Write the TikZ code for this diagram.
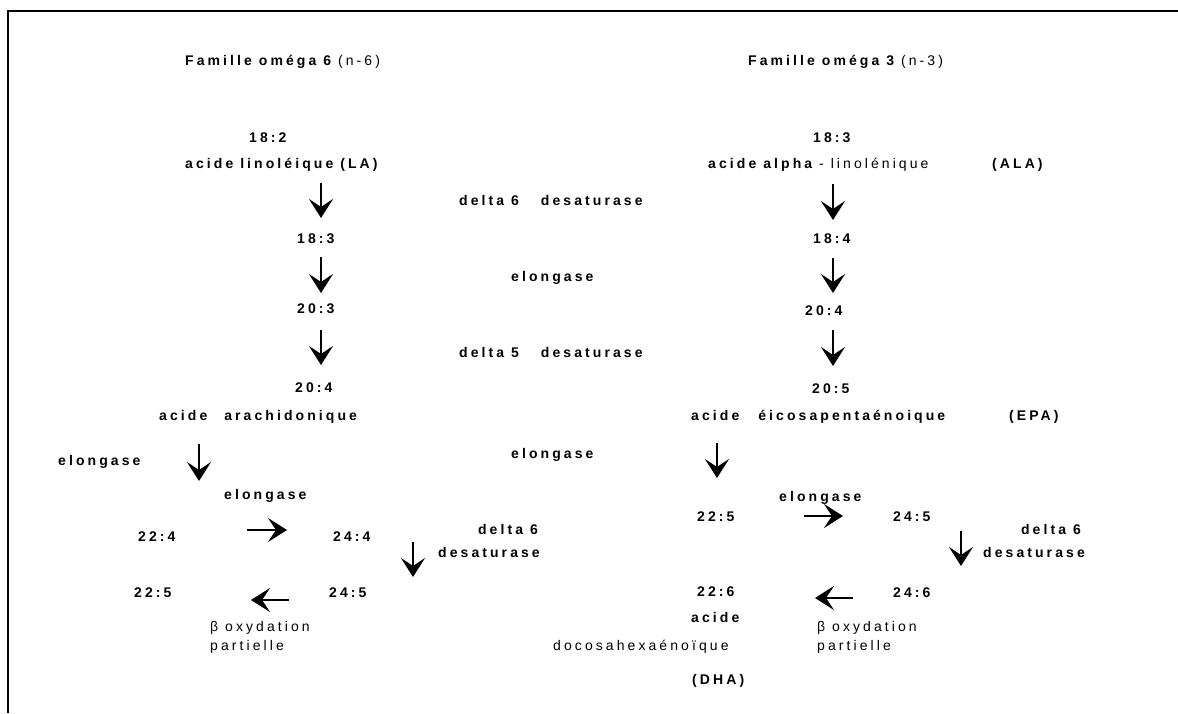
\documentclass[tikz,border=0pt]{standalone}
\usepackage{fontspec}
\setmainfont{Liberation Sans}[LetterSpace=22]
\usetikzlibrary{arrows.meta}
\tikzset{
  lbl/.style={anchor=west, inner sep=0pt, text height=10pt, text depth=0pt,
    font=\fontsize{14pt}{16pt}\selectfont\bfseries},
  lblr/.style={lbl, anchor=east},
  plain/.style={lbl, font=\fontsize{14pt}{16pt}\selectfont},
  flow/.style={line width=2.6pt, -{Stealth[length=19pt,width=24pt,inset=8pt]}},
}
\newcommand{\lite}[1]{{\mdseries #1}}
\begin{document}
\begin{tikzpicture}[x=1pt, y=-1pt]
  \useasboundingbox (0,0) rectangle (1178,713);
  \draw[line width=2pt] (8.4,713) -- (8.4,11) -- (1178,11);

  \node[lbl] (t6) at (185,60) {Famille oméga 6 \lite{(n-6)}};
  \node[lbl] (t3) at (748,60) {Famille oméga 3 \lite{(n-3)}};

  \node[lbl] (la182) at (249,137) {18:2};
  \node[lbl] (la) at (185,163) {acide linoléique (LA)};
  \node[lbl] (n183) at (297,238) {18:3};
  \node[lbl] (n203) at (297,308) {20:3};
  \node[lbl] (n204) at (295,387) {20:4};
  \node[lbl] (aa) at (159,415) {acide\hspace{17pt}arachidonique};
  \node[lbl] (elo6a) at (58,460) {elongase};
  \node[lbl] (elo6b) at (224,494) {elongase};
  \node[lbl] (n224) at (138,536) {22:4};
  \node[lbl] (n244) at (333,536) {24:4};
  \node[lblr] (d6a) at (538,529) {delta 6};
  \node[lblr] (d6b) at (540,552) {desaturase};
  \node[lbl] (n225a) at (134,592) {22:5};
  \node[lbl] (n245a) at (329,592) {24:5};
  \node[plain] (box6a) at (210,626) {β oxydation};
  \node[plain] (box6b) at (210,645) {partielle};

  \node[lbl] (e1) at (459,200) {delta 6\hspace{22pt}desaturase};
  \node[lbl] (e2) at (511,276) {elongase};
  \node[lbl] (e3) at (459,352) {delta 5\hspace{22pt}desaturase};
  \node[lbl] (e4) at (511,453) {elongase};

  \node[lbl] (ala183) at (813,137) {18:3};
  \node[lbl] (ala) at (708,163) {acide alpha \lite{- linolénique}};
  \node[lbl] (alab) at (992,163) {(ALA)};
  \node[lbl] (n184) at (813,238) {18:4};
  \node[lbl] (n204b) at (805,310) {20:4};
  \node[lbl] (n205) at (812,388) {20:5};
  \node[lbl] (epa) at (691,415) {acide\hspace{19pt}éicosapentaénoique};
  \node[lbl] (epab) at (1009,415) {(EPA)};
  \node[lbl] (elo3) at (779,496) {elongase};
  \node[lbl] (n225b) at (697,516) {22:5};
  \node[lbl] (n245b) at (893,516) {24:5};
  \node[lblr] (d3a) at (1081,529) {delta 6};
  \node[lblr] (d3b) at (1085,552) {desaturase};
  \node[lbl] (n226) at (697,591) {22:6};
  \node[lbl] (dha1) at (691,617) {acide};
  \node[plain] (dha2) at (553,645) {docosahexaénoïque};
  \node[lbl] (dha3) at (692,679) {(DHA)};
  \node[lbl] (n246) at (893,592) {24:6};
  \node[plain] (box3a) at (817,626) {β oxydation};
  \node[plain] (box3b) at (817,645) {partielle};

  \coordinate (a1s) at (321,183); \coordinate (a1e) at (321,218);
  \coordinate (a2s) at (321,257); \coordinate (a2e) at (321,293);
  \coordinate (a3s) at (321,330); \coordinate (a3e) at (321,365);
  \coordinate (a4s) at (199,444); \coordinate (a4e) at (199,481);
  \coordinate (a5s) at (247,530); \coordinate (a5e) at (287,530);
  \coordinate (a6s) at (413,542); \coordinate (a6e) at (413,577);
  \coordinate (a7s) at (289,600); \coordinate (a7e) at (251,600);
  \coordinate (b1s) at (833,184); \coordinate (b1e) at (833,220);
  \coordinate (b2s) at (833,258); \coordinate (b2e) at (833,293);
  \coordinate (b3s) at (833,330); \coordinate (b3e) at (833,366);
  \coordinate (b4s) at (717,443); \coordinate (b4e) at (717,478);
  \coordinate (b5s) at (804,516); \coordinate (b5e) at (843,516);
  \coordinate (b6s) at (961,531); \coordinate (b6e) at (961,566);
  \coordinate (b7s) at (853,598); \coordinate (b7e) at (815,598);

  \path[flow]
  (a1s) edge (a1e)
  (a2s) edge (a2e)
  (a3s) edge (a3e)
  (a4s) edge (a4e)
  (a5s) edge (a5e)
  (a6s) edge (a6e)
  (a7s) edge (a7e)
  (b1s) edge (b1e)
  (b2s) edge (b2e)
  (b3s) edge (b3e)
  (b4s) edge (b4e)
  (b5s) edge (b5e)
  (b6s) edge (b6e)
  (b7s) edge (b7e)
  ;
\end{tikzpicture}
\end{document}
